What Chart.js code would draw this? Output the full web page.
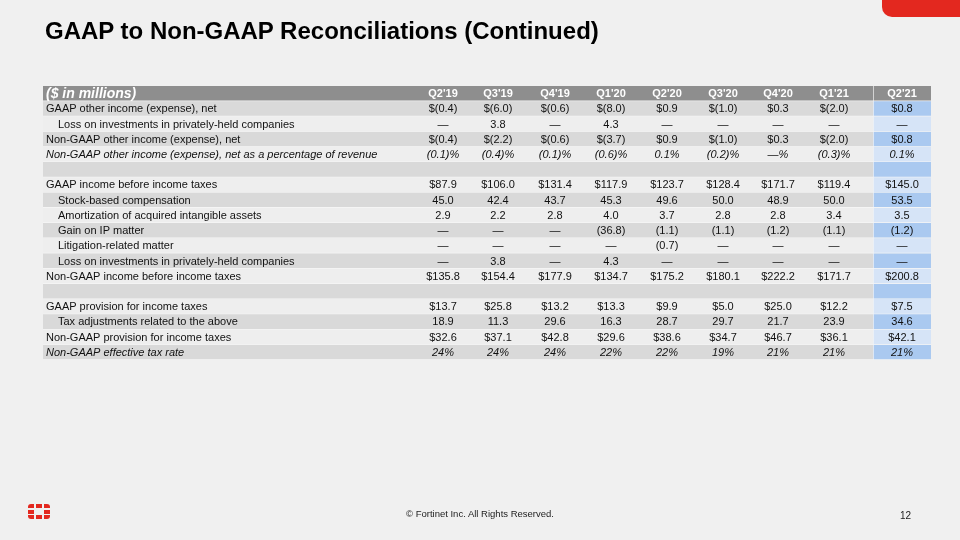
<!DOCTYPE html>
<html>
<head>
<meta charset="utf-8">
<script src="https://cdn.jsdelivr.net/npm/chart.js@4.4.0/dist/chart.umd.min.js"></script>
<style>
    body { margin: 0; background: #f0f0f0; }
    #slide { position: relative; width: 960px; height: 540px; overflow: hidden; background: #f0f0f0; font-family: "Liberation Sans", Arial, sans-serif; }
    #slide canvas { position: absolute; left: 0; top: 0; }
    .title { position: absolute; left: 45px; top: 19px; margin: 0; font-size: 24px; line-height: 24px; font-weight: bold; color: #000; white-space: nowrap; }
    .corner { position: absolute; left: 882px; top: 0; width: 90px; height: 17px; background: #e3281f; border-bottom-left-radius: 10px; }
    .footer { position: absolute; left: 0; width: 960px; top: 508px; text-align: center; font-size: 9.5px; color: #222; }
    .page { position: absolute; left: 900px; top: 510px; font-size: 10px; color: #222; }
    .logo { position: absolute; left: 28px; top: 504px; width: 22px; height: 15px; }
    .logo div { position: absolute; background: #e3281f; }
</style>
</head>
<body>
<div id="slide">
    <canvas id="table" width="960" height="540"></canvas>
    <div class="corner"></div>
    <h1 class="title">GAAP to Non-GAAP Reconciliations (Continued)</h1>
    <div class="logo">
        <div style="left:0;top:0;width:6px;height:4px;border-top-left-radius:3px"></div>
        <div style="left:8px;top:0;width:6px;height:4px"></div>
        <div style="left:16px;top:0;width:6px;height:4px;border-top-right-radius:3px"></div>
        <div style="left:0;top:5.5px;width:6px;height:4px"></div>
        <div style="left:16px;top:5.5px;width:6px;height:4px"></div>
        <div style="left:0;top:11px;width:6px;height:4px;border-bottom-left-radius:3px"></div>
        <div style="left:8px;top:11px;width:6px;height:4px"></div>
        <div style="left:16px;top:11px;width:6px;height:4px;border-bottom-right-radius:3px"></div>
    </div>
    <div class="footer">© Fortinet Inc. All Rights Reserved.</div>
    <div class="page">12</div>
</div>

<script>
// quarters shown as column headers
const quarters = ["Q2'19", "Q3'19", "Q4'19", "Q1'20", "Q2'20", "Q3'20", "Q4'20", "Q1'21", "Q2'21"];

// values in $ millions, null = dash
const gaapOtherIncome = [-0.4, -6.0, -0.6, -8.0, 0.9, -1.0, 0.3, -2.0, 0.8];
const lossOnInvestments = [null, 3.8, null, 4.3, null, null, null, null, null];
const nonGaapOtherIncome = [-0.4, -2.2, -0.6, -3.7, 0.9, -1.0, 0.3, -2.0, 0.8];
const otherIncomePctOfRevenue = [-0.1, -0.4, -0.1, -0.6, 0.1, -0.2, 0, -0.3, 0.1];

const gaapIncomeBeforeTax = [87.9, 106.0, 131.4, 117.9, 123.7, 128.4, 171.7, 119.4, 145.0];
const stockBasedComp = [45.0, 42.4, 43.7, 45.3, 49.6, 50.0, 48.9, 50.0, 53.5];
const amortization = [2.9, 2.2, 2.8, 4.0, 3.7, 2.8, 2.8, 3.4, 3.5];
const gainOnIpMatter = [null, null, null, -36.8, -1.1, -1.1, -1.2, -1.1, -1.2];
const litigation = [null, null, null, null, -0.7, null, null, null, null];
const nonGaapIncomeBeforeTax = [135.8, 154.4, 177.9, 134.7, 175.2, 180.1, 222.2, 171.7, 200.8];

const gaapTaxProvision = [13.7, 25.8, 13.2, 13.3, 9.9, 5.0, 25.0, 12.2, 7.5];
const taxAdjustments = [18.9, 11.3, 29.6, 16.3, 28.7, 29.7, 21.7, 23.9, 34.6];
const nonGaapTaxProvision = [32.6, 37.1, 42.8, 29.6, 38.6, 34.7, 46.7, 36.1, 42.1];
const nonGaapTaxRate = [24, 24, 24, 22, 22, 19, 21, 21, 21];

// number formats used in the table
const dollar = v => v < 0 ? '$(' + (-v).toFixed(1) + ')' : '$' + v.toFixed(1);
const plain = v => v === null ? '—' : (v < 0 ? '(' + (-v).toFixed(1) + ')' : v.toFixed(1));
const pct1 = v => v === 0 ? '—%' : (v < 0 ? '(' + (-v).toFixed(1) + ')%' : v.toFixed(1) + '%');
const pct0 = v => v + '%';

const rows = [
    { label: '($ in millions)', values: quarters, fmt: v => v, header: true },
    { label: 'GAAP other income (expense), net', values: gaapOtherIncome, fmt: dollar },
    { label: 'Loss on investments in privately-held companies', values: lossOnInvestments, fmt: plain, indent: true },
    { label: 'Non-GAAP other income (expense), net', values: nonGaapOtherIncome, fmt: dollar },
    { label: 'Non-GAAP other income (expense), net as a percentage of revenue', values: otherIncomePctOfRevenue, fmt: pct1, italic: true },
    { label: '', values: null },
    { label: 'GAAP income before income taxes', values: gaapIncomeBeforeTax, fmt: dollar },
    { label: 'Stock-based compensation', values: stockBasedComp, fmt: plain, indent: true },
    { label: 'Amortization of acquired intangible assets', values: amortization, fmt: plain, indent: true },
    { label: 'Gain on IP matter', values: gainOnIpMatter, fmt: plain, indent: true },
    { label: 'Litigation-related matter', values: litigation, fmt: plain, indent: true },
    { label: 'Loss on investments in privately-held companies', values: lossOnInvestments, fmt: plain, indent: true },
    { label: 'Non-GAAP income before income taxes', values: nonGaapIncomeBeforeTax, fmt: dollar },
    { label: '', values: null },
    { label: 'GAAP provision for income taxes', values: gaapTaxProvision, fmt: dollar },
    { label: 'Tax adjustments related to the above', values: taxAdjustments, fmt: plain, indent: true },
    { label: 'Non-GAAP provision for income taxes', values: nonGaapTaxProvision, fmt: dollar },
    { label: 'Non-GAAP effective tax rate', values: nonGaapTaxRate, fmt: pct0, italic: true }
];

// layout (x units = px from the table's left edge)
const TABLE_W = 888;
const HIGHLIGHT_X = 830;
const COL_X = [400, 455, 512, 568, 624, 680, 735, 791, 859];
const LABEL_X = 3;
const INDENT_X = 15;

const HEADER_BG = '#8e8e8e';
const rowBg = rows.map((r, i) => i === 0 ? HEADER_BG : (i % 2 ? '#d9d9d9' : '#eeeeee'));
const colBg = rows.map((r, i) => i === 0 ? HEADER_BG : (i % 2 ? '#aac9f0' : '#d6e4f7'));

// draws the labels and values into the cells
const cellText = {
    id: 'cellText',
    afterDatasetsDraw(chart) {
        let ctx = chart.ctx;
        let x = chart.scales.x;
        let y = chart.scales.y;
        ctx.save();
        ctx.textBaseline = 'middle';
        rows.forEach((row, i) => {
            let py = y.getPixelForValue(i);
            if (row.header) {
                ctx.fillStyle = '#ffffff';
                ctx.textAlign = 'left';
                ctx.font = 'italic bold 14px "Liberation Sans", Arial, sans-serif';
                ctx.fillText(row.label, x.getPixelForValue(LABEL_X), py + 0.5);
                ctx.textAlign = 'center';
                ctx.font = 'bold 11px "Liberation Sans", Arial, sans-serif';
                row.values.forEach((q, j) => ctx.fillText(q, x.getPixelForValue(COL_X[j]), py + 0.5));
                return;
            }
            if (!row.values) return;
            ctx.fillStyle = '#111111';
            ctx.font = (row.italic ? 'italic ' : '') + '11px "Liberation Sans", Arial, sans-serif';
            ctx.textAlign = 'left';
            ctx.fillText(row.label, x.getPixelForValue(row.indent ? INDENT_X : LABEL_X), py + 0.5);
            ctx.textAlign = 'center';
            row.values.forEach((v, j) => ctx.fillText(row.fmt(v), x.getPixelForValue(COL_X[j]), py + 0.5));
        });
        ctx.restore();
    }
};

new Chart(document.getElementById('table'), {
    type: 'bar',
    data: {
        labels: rows.map(r => r.label),
        datasets: [
            {
                data: rows.map(() => [0, HIGHLIGHT_X]),
                backgroundColor: rowBg,
                borderColor: '#f6f6f6',
                borderWidth: { top: 0, right: 0, bottom: 1, left: 0 },
                borderSkipped: false,
                grouped: false,
                categoryPercentage: 1,
                barPercentage: 1
            },
            {
                data: rows.map(() => [HIGHLIGHT_X, TABLE_W]),
                backgroundColor: colBg,
                borderColor: '#f6f6f6',
                borderWidth: { top: 0, right: 0, bottom: 1, left: 1 },
                borderSkipped: false,
                grouped: false,
                categoryPercentage: 1,
                barPercentage: 1
            }
        ]
    },
    options: {
        indexAxis: 'y',
        responsive: false,
        animation: false,
        layout: { padding: { left: 43, right: 29, top: 86, bottom: 180 } },
        scales: {
            x: { type: 'linear', min: 0, max: TABLE_W, display: false },
            y: { display: false, offset: true }
        },
        plugins: {
            legend: { display: false },
            tooltip: { enabled: false }
        }
    },
    plugins: [cellText]
});
</script>
</body>
</html>
